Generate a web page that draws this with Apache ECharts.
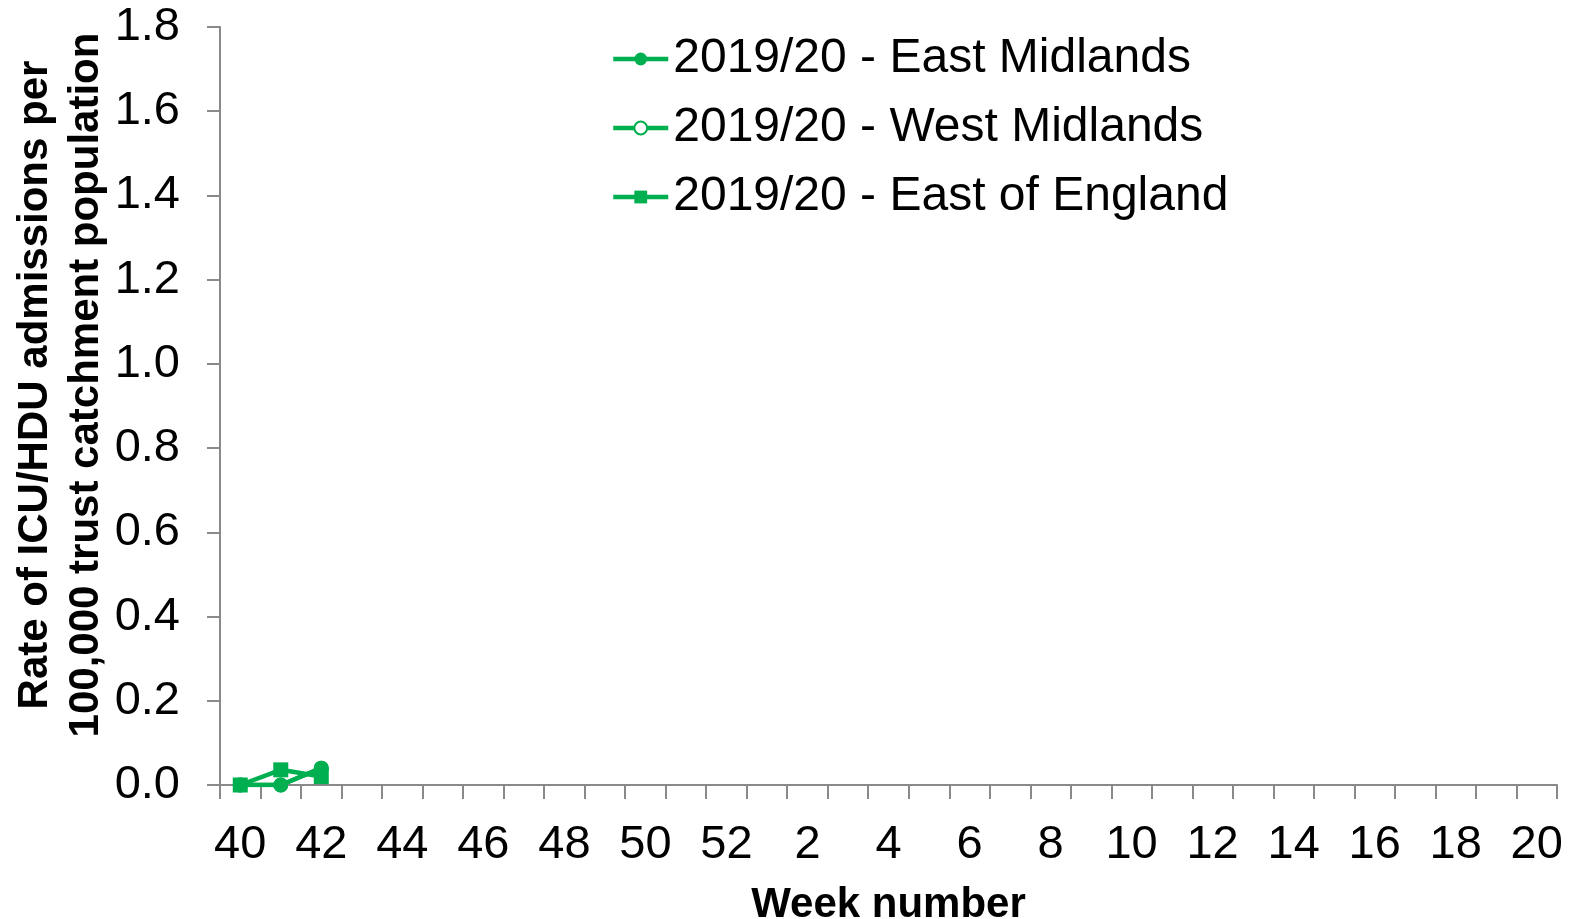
<!DOCTYPE html>
<html><head><meta charset="utf-8">
<script src="https://cdn.jsdelivr.net/npm/echarts@6/dist/echarts.min.js"></script>
<style>html,body{margin:0;padding:0;background:#fff}#c{width:1578px;height:919px}</style>
</head><body><div id="c"></div>
<script>
const weeks = ['40','41','42','43','44','45','46','47','48','49','50','51','52','1','2','3','4','5','6','7','8','9','10','11','12','13','14','15','16','17','18','19','20'];
const eastMidlands = [0, 0, 0.04];
const westMidlands = [0, 0, 0.04];
const eastOfEngland = [0, 0.036, 0.02];
const seriesNames = ['2019/20 - East Midlands','2019/20 - West Midlands','2019/20 - East of England'];
const yTicks = {min: 0, max: 1.8, interval: 0.2};

const GREEN = '#00B050';
const FONT = "'Liberation Sans', Arial, sans-serif";
const AXIS = '#898989';

const chart = echarts.init(document.getElementById('c'), null, {renderer:'canvas'});
chart.setOption({
  animation: false,
  backgroundColor: '#fff',
  grid: {left: 220, right: 21, top: 27, bottom: 134, containLabel: false, outerBoundsMode: 'none'},
  legend: {
    orient: 'vertical', left: 611, top: 35, padding: 0,
    itemWidth: 55, itemHeight: 16, itemGap: 21,
    lineStyle: {width: 4.5},
    textStyle: {fontFamily: FONT, fontSize: 48, color: '#000'},
    data: seriesNames
  },
  xAxis: {
    type: 'category', data: weeks, boundaryGap: true,
    axisLine: {lineStyle: {color: AXIS, width: 2}},
    axisTick: {show: true, interval: 0, length: 14, lineStyle: {color: AXIS, width: 2}},
    axisLabel: {interval: 1, margin: 37, fontFamily: FONT, fontSize: 47, color: '#000'},
    name: 'Week number', nameLocation: 'middle', nameGap: 99, nameMoveOverlap: false,
    nameTextStyle: {fontFamily: FONT, fontSize: 42, fontWeight: 'bold', color: '#000'},
    splitLine: {show: false}
  },
  yAxis: {
    type: 'value', min: yTicks.min, max: yTicks.max, interval: yTicks.interval,
    axisLine: {show: true, lineStyle: {color: AXIS, width: 2}},
    axisTick: {show: true, length: 13, lineStyle: {color: AXIS, width: 2}},
    axisLabel: {margin: 40, fontFamily: FONT, fontSize: 47, color: '#000', formatter: v => v.toFixed(1)},
    splitLine: {show: false},
    name: 'Rate of ICU/HDU admissions per\n100,000 trust catchment population',
    nameLocation: 'middle', nameGap: 108, nameMoveOverlap: false,
    nameTextStyle: {fontFamily: FONT, fontSize: 42, fontWeight: 'bold', color: '#000', lineHeight: 51, padding: [0,0,0,42]}
  },
  series: [
    {name: seriesNames[0], type: 'line', data: eastMidlands, z: 3,
     symbol: 'circle', symbolSize: 15, lineStyle: {color: GREEN, width: 4.5},
     itemStyle: {color: GREEN}},
    {name: seriesNames[1], type: 'line', data: westMidlands, z: 2,
     symbol: 'emptyCircle', symbolSize: 13, lineStyle: {color: GREEN, width: 4.5},
     itemStyle: {color: GREEN, borderWidth: 2}},
    {name: seriesNames[2], type: 'line', data: eastOfEngland, z: 4,
     symbol: 'rect', symbolSize: 15, lineStyle: {color: GREEN, width: 4.5},
     itemStyle: {color: GREEN}}
  ]
});
</script></body></html>
